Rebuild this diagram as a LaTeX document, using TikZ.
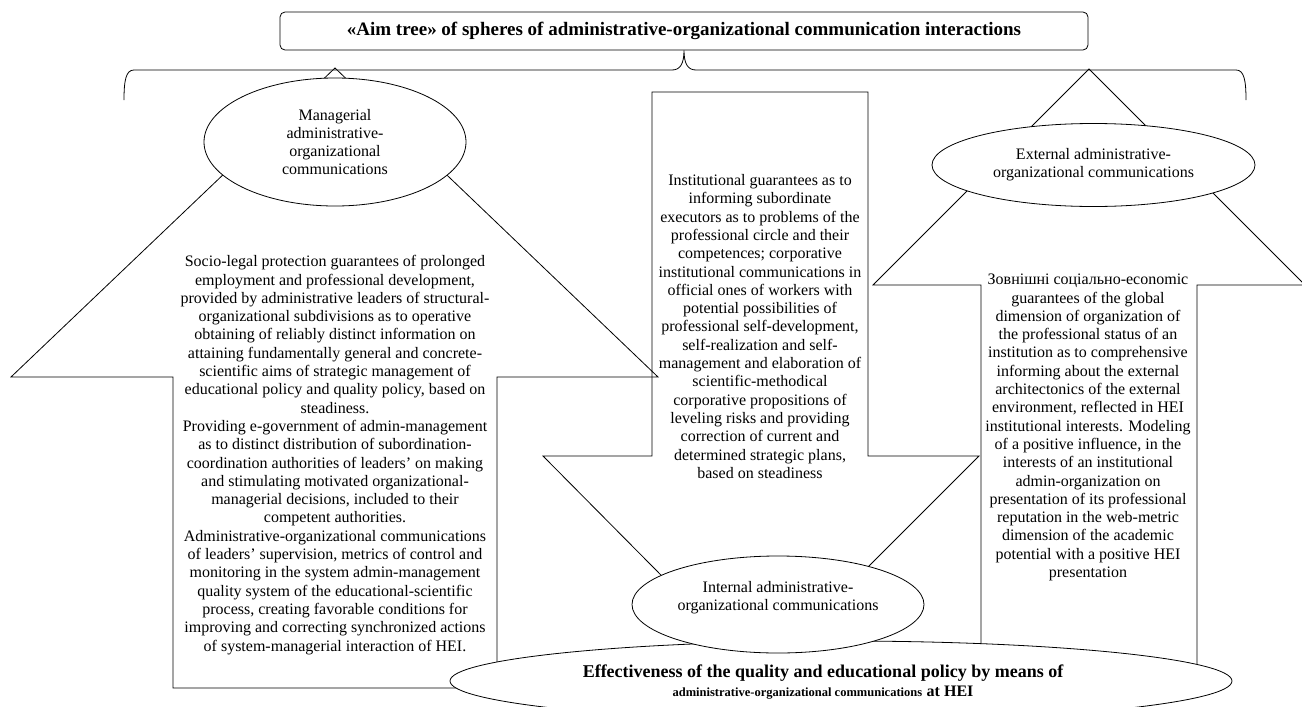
\documentclass[tikz,border=0pt]{standalone}
\usepackage{fontspec}
\setmainfont{Liberation Serif}
\usetikzlibrary{shapes.geometric}

\begin{document}
\begin{tikzpicture}[x=1pt, y=-1pt,
    outline/.style={draw, line width=0.8pt, line join=miter},
    bubble/.style={ellipse, draw, fill=white, line width=0.8pt, inner sep=0pt},
    bodytext/.style={align=center, inner sep=0pt, font=\fontsize{16}{18.3}\selectfont}
    ]
\useasboundingbox (0,0) rectangle (1302,707);

% title and brace
\node[draw, rounded corners=5pt, line width=0.8pt, minimum width=808pt, minimum height=38pt,
    font=\bfseries\fontsize{19}{21}\selectfont] (title) at (684,31)
    {«Aim tree» of spheres of administrative-organizational communication interactions};
\coordinate (braceL) at (124,100);
\coordinate (braceR) at (1246,100);
\draw[line width=0.8pt] (braceL) .. controls (124,80) and (126,70) .. (134,70) -- (672,70)
    .. controls (680,70) and (684,64) .. (title.south)
    .. controls (684,64) and (688,70) .. (696,70) -- (1236,70)
    .. controls (1244,70) and (1246,80) .. (braceR);

% the three arrows
\draw[outline] (335,68) -- (658,377) -- (497,377) -- (497,688) -- (173,688) -- (173,377) -- (11,377) -- cycle;
\draw[outline] (652,92) -- (868,92) -- (868,456) -- (979,456) -- (760,675) -- (543,456) -- (652,456) -- cycle;
\draw[outline] (1089,69) -- (1305,285) -- (1197,285) -- (1197,690) -- (981,690) -- (981,285) -- (873,285) -- cycle;

% spheres
\node[bubble, bodytext, minimum width=262pt, minimum height=128pt] (mgr) at (335,142)
    {Managerial\\administrative-\\organizational\\communications};
\node[bubble, bodytext, minimum width=323pt, minimum height=83pt] (ext) at (1093.5,165)
    {External administrative-\\organizational communications};
\node[bubble, minimum width=782pt, minimum height=80pt] (eff) at (841,681) {};
\node[align=center, inner sep=0pt, font=\bfseries\fontsize{18}{19}\selectfont] (efftext) at (823,682)
    {Effectiveness of the quality and educational policy by means of\\
     {\fontsize{12.5}{19}\selectfont administrative-organizational communications}
     {\fontsize{16}{19}\selectfont at HEI}};
\node[bubble, minimum width=292pt, minimum height=97pt,
    label={[bodytext, yshift=7pt]center:Internal administrative-\\organizational communications}] (int) at (778,604.5) {};

% contents of the arrows
\node[bodytext] (mgrtext) at (335,455) {Socio-legal protection guarantees of prolonged\\
employment and professional development,\\
provided by administrative leaders of structural-\\
organizational subdivisions as to operative\\
obtaining of reliably distinct information on\\
attaining fundamentally general and concrete-\\
scientific aims of strategic management of\\
educational policy and quality policy, based on\\
steadiness.\\
Providing e-government of admin-management\\
as to distinct distribution of subordination-\\
coordination authorities of leaders’ on making\\
and stimulating motivated organizational-\\
managerial decisions, included to their\\
competent authorities.\\
Administrative-organizational communications\\
of leaders’ supervision, metrics of control and\\
monitoring in the system admin-management\\
quality system of the educational-scientific\\
process, creating favorable conditions for\\
improving and correcting synchronized actions\\
of system-managerial interaction of HEI.};

\node[bodytext] (inttext) at (760,326.5) {Institutional guarantees as to\\
informing subordinate\\
executors as to problems of the\\
professional circle and their\\
competences; corporative\\
institutional communications in\\
official ones of workers with\\
potential possibilities of\\
professional self-development,\\
self-realization and self-\\
management and elaboration of\\
scientific-methodical\\
corporative propositions of\\
leveling risks and providing\\
correction of current and\\
determined strategic plans,\\
based on steadiness};

\node[bodytext] (exttext) at (1088,427.5) {Зовнішні соціально-economic\\
guarantees of the global\\
dimension of organization of\\
the professional status of an\\
institution as to comprehensive\\
informing about the external\\
architectonics of the external\\
environment, reflected in HEI\\
institutional interests. Modeling\\
of a positive influence, in the\\
interests of an institutional\\
admin-organization on\\
presentation of its professional\\
reputation in the web-metric\\
dimension of the academic\\
potential with a positive HEI\\
presentation};

\end{tikzpicture}
\end{document}
